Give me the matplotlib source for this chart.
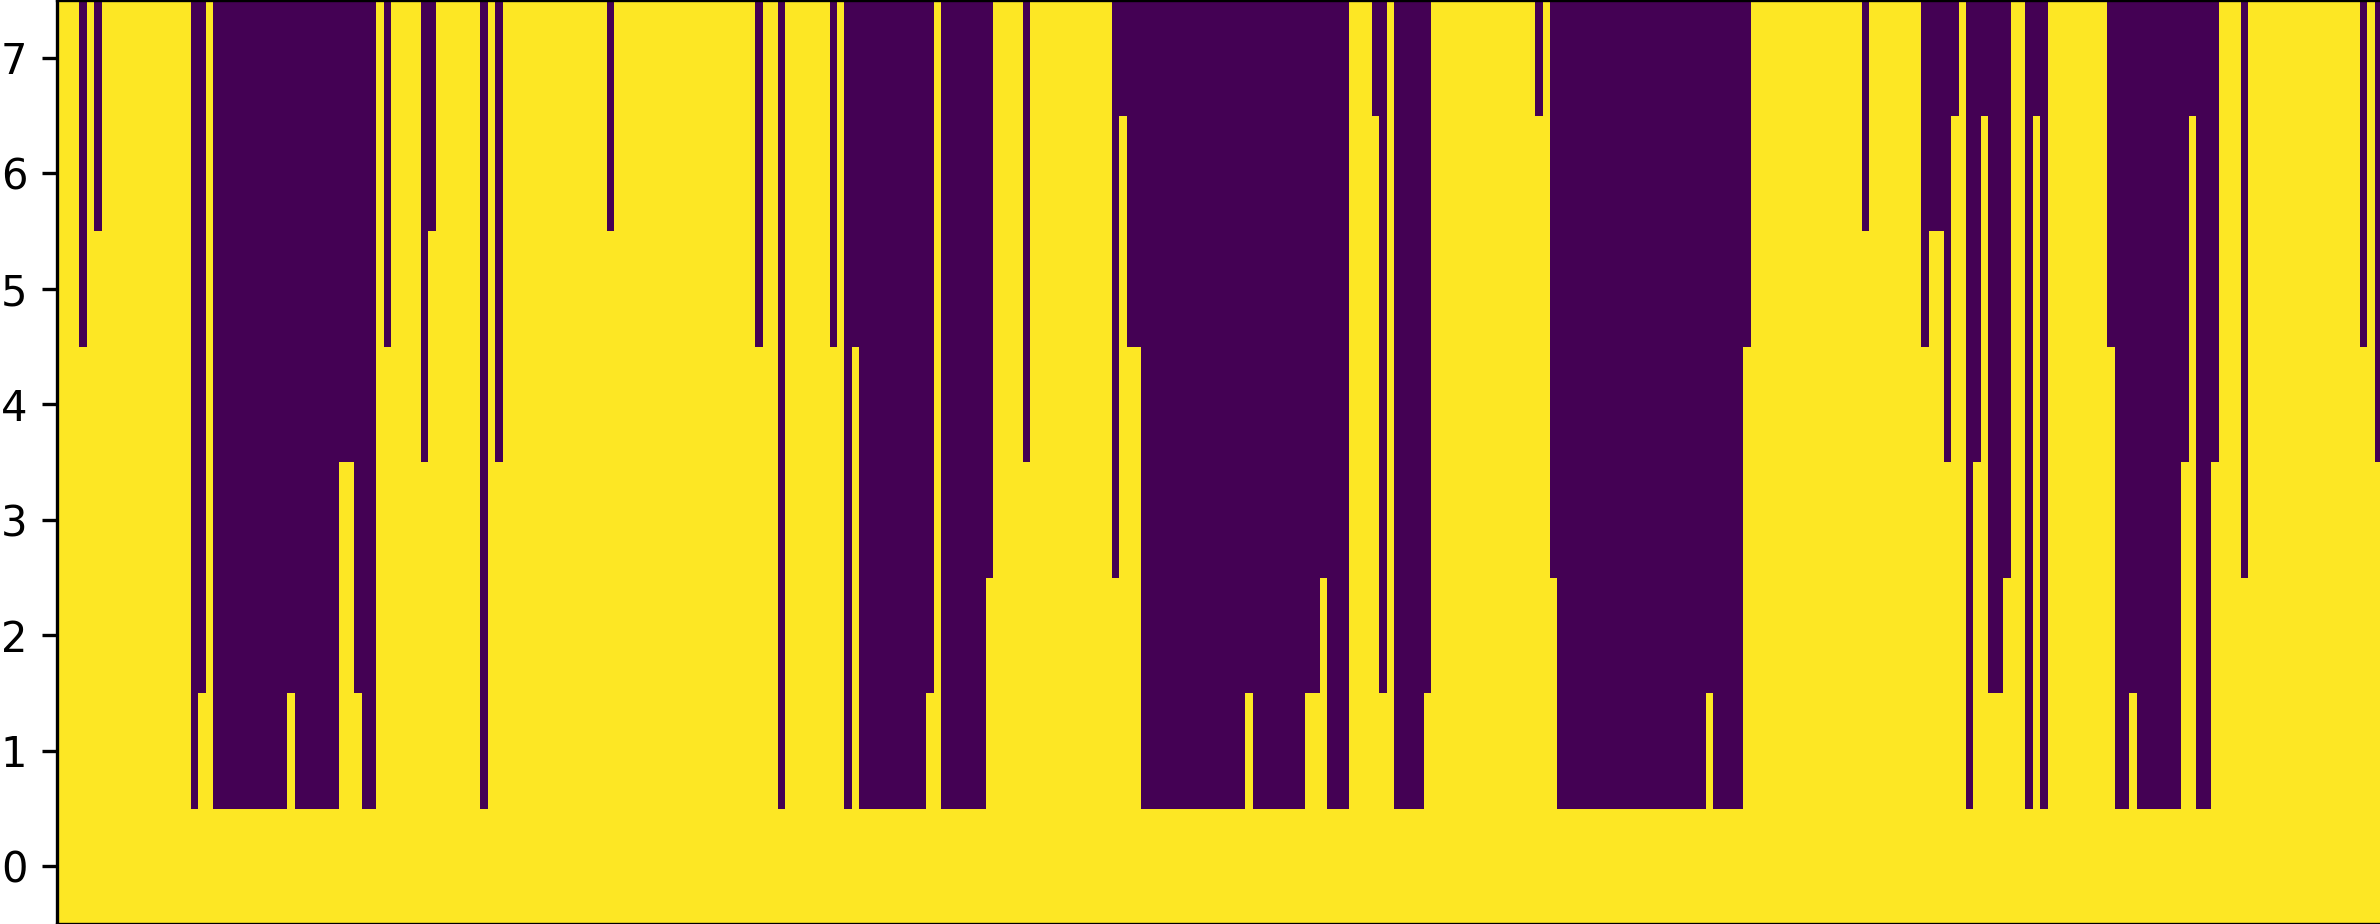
import numpy as np
import matplotlib
matplotlib.use("Agg")
import matplotlib.pyplot as plt

# lowest dark row of each run of columns (8 = column has no dark cell), and run lengths
run_bottom = [8, 5, 8, 6, 8, 1, 2, 8, 1, 2, 1, 4, 2, 1, 8, 5, 8, 4, 6, 8, 1, 8, 4, 8,
              6, 8, 5, 8, 1, 8, 5, 8, 1, 5, 1, 2, 8, 1, 3, 8, 4, 8, 3, 7, 5, 1, 2, 1,
              2, 3, 1, 8, 7, 2, 8, 1, 2, 8, 7, 8, 3, 1, 2, 1, 5, 8, 6, 8, 5, 6, 4, 7,
              8, 1, 4, 7, 2, 3, 8, 1, 7, 1, 8, 5, 1, 2, 1, 4, 7, 1, 4, 8, 3, 8, 5, 8, 4]
run_len = [3, 1, 1, 1, 12, 1, 1, 1, 10, 1, 6, 2, 1, 2, 1, 1, 4, 1, 1, 6, 1, 1, 1, 14,
           1, 19, 1, 2, 1, 6, 1, 1, 1, 1, 9, 1, 1, 6, 1, 4, 1, 11, 1, 1, 2, 14, 1, 7,
           2, 1, 3, 3, 1, 1, 1, 4, 1, 14, 1, 1, 1, 20, 1, 4, 1, 15, 1, 7, 1, 2, 1, 1,
           1, 1, 1, 1, 2, 1, 2, 1, 1, 1, 8, 1, 2, 1, 6, 1, 1, 2, 1, 3, 1, 15, 1, 1, 1]
y_rows = [0, 1, 2, 3, 4, 5, 6, 7]

bottoms = np.repeat(run_bottom, run_len)
grid = np.array([[0 if y >= b else 1 for b in bottoms] for y in y_rows])

fig = plt.figure(figsize=(2380 / 300, 924 / 300), dpi=300)
# axes runs very slightly past the canvas on the right
ax = fig.add_axes([56.6 / 2380, 0, (2381.3 - 56.6) / 2380, 1])
ax.imshow(grid, cmap="viridis", origin="lower", aspect="auto", interpolation="nearest")
ax.set_xticks([])
ax.set_yticks(y_rows)

fig.savefig("out.png", dpi=300)
plt.close(fig)
